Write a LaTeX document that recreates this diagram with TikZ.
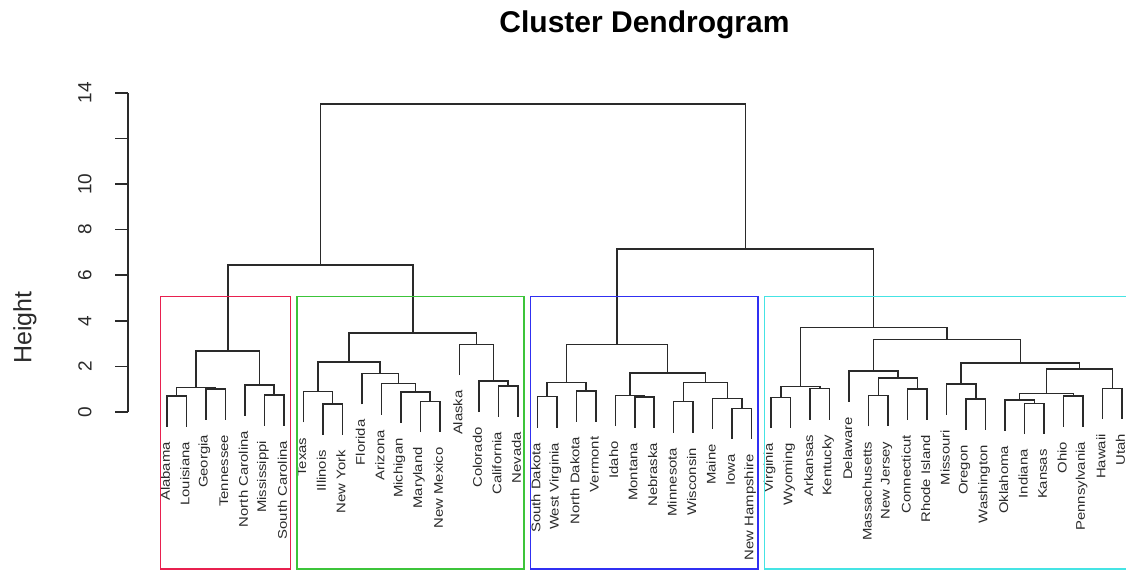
\documentclass[tikz,border=0pt]{standalone}
\usepackage{fontspec}
\setmainfont{Liberation Sans}
\usepackage{tikz}
\definecolor{kred}{HTML}{E8204F}
\definecolor{kgreen}{HTML}{3CC43A}
\definecolor{kblue}{HTML}{3030F2}
\definecolor{kcyan}{HTML}{45E4E4}
\definecolor{ink}{HTML}{2A2A2A}
\tikzset{
  % tree and axis strokes
  branch/.style  = {draw=ink, line width=1.5pt},
  axisline/.style = {draw=ink, line width=1.5pt},
  clusbox/.style = {draw=#1, line width=1.5pt},
  clusbox/.default = kred,
  % rotated texts
  leaf/.style    = {rotate=90, xscale=1.19, anchor=east, inner sep=0pt, text=ink,
                    font=\fontsize{12.5}{13}\selectfont},
  ticklbl/.style = {rotate=90, inner sep=0pt, text=ink, font=\fontsize{19}{21}\selectfont},
  ylbl/.style    = {rotate=90, inner sep=0pt, text=ink, font=\fontsize{25}{28}\selectfont},
  ttl/.style     = {inner sep=0pt, text=black, font=\fontsize{30}{34}\selectfont\bfseries},
}

\begin{document}
\begin{tikzpicture}[x=19.49pt,y=22.8pt]
\clip (-7.568,-7.061) rectangle (50.205,18.070);
% --- axis ---------------------------------------------------------------
\draw[axisline] (-1,0) -- (-1,14);
\foreach \v in {0,2,...,14}
  {\draw[axisline] (-1,\v) -- (-1.67,\v);}
\foreach \v in {0,2,4,6,8,10,14}
  {\node[ticklbl] (y\v) at (-3.21,\v) {\v};}
\node[ylbl] (ylab) at (-6.29,3.71) {Height};
\node[ttl] (title) at (25.5,16.97) {Cluster Dendrogram};
% --- leaves: index / parent height / name / label ------------------------
\foreach \i/\h/\n/\t in {1/0.70/AL/Alabama, 2/0.70/LA/Louisiana, 3/1.01/GA/Georgia,
    4/1.01/TN/Tennessee, 5/1.18/NC/North Carolina, 6/0.75/MS/Mississippi,
    7/0.75/SC/South Carolina, 8/0.89/TX/Texas, 9/0.35/IL/Illinois, 10/0.35/NY/New York,
    11/1.68/FL/Florida, 12/1.24/AZ/Arizona, 13/0.87/MI/Michigan, 14/0.47/MD/Maryland,
    15/0.47/NM/New Mexico, 16/2.97/AK/Alaska, 17/1.35/CO/Colorado, 18/1.15/CA/California,
    19/1.15/NV/Nevada, 20/0.67/SD/South Dakota, 21/0.67/WV/West Virginia,
    22/0.93/ND/North Dakota, 23/0.93/VT/Vermont, 24/0.73/ID/Idaho, 25/0.66/MT/Montana,
    26/0.66/NE/Nebraska, 27/0.45/MN/Minnesota, 28/0.45/WI/Wisconsin, 29/0.60/ME/Maine,
    30/0.16/IA/Iowa, 31/0.16/NH/New Hampshire, 32/0.64/VA/Virginia, 33/0.64/WY/Wyoming,
    34/1.02/AR/Arkansas, 35/1.02/KY/Kentucky, 36/1.80/DE/Delaware, 37/0.72/MA/Massachusetts,
    38/0.72/NJ/New Jersey, 39/1.01/CT/Connecticut, 40/1.01/RI/Rhode Island,
    41/1.23/MO/Missouri, 42/0.56/OR/Oregon, 43/0.56/WA/Washington, 44/0.53/OK/Oklahoma,
    45/0.38/IN/Indiana, 46/0.38/KS/Kansas, 47/0.70/OH/Ohio, 48/0.70/PA/Pennsylvania,
    49/1.04/HI/Hawaii, 50/1.04/UT/Utah}
  {\coordinate (\n) at (\i,\h-1.35);
   \node[leaf] (t\n) at ([xshift=-1.5pt,yshift=-15pt]\n) {\t};}
% --- merges: name / x / height -------------------------------------------
\foreach \m/\x/\h in {r1/1.5/0.70, r2/3.5/1.01, r3/2.5/1.07, r4/6.5/0.75, r5/5.75/1.18,
    r6/4.125/2.68, g1/9.5/0.35, g2/8.75/0.89, g3/14.5/0.47, g4/13.75/0.87, g5/12.875/1.24,
    g6/11.9375/1.68, g7/10.34375/2.19, g8/18.5/1.15, g9/17.75/1.35, g10/16.875/2.97,
    g11/13.609375/3.46, rg/8.8671875/6.45, b1/20.5/0.67, b2/22.5/0.93, b3/21.5/1.29,
    b4/25.5/0.66, b5/24.75/0.73, b6/27.5/0.45, b7/30.5/0.16, b8/29.75/0.60,
    b9/28.625/1.30, b10/26.6875/1.72, b11/24.09375/2.97, c1/32.5/0.64, c2/34.5/1.02,
    c3/33.5/1.11, c4/37.5/0.72, c5/39.5/1.01, c6/38.5/1.50, c7/37.25/1.80, c8/42.5/0.56,
    c9/41.75/1.23, c10/45.5/0.38, c11/44.75/0.53, c12/47.5/0.70, c13/46.125/0.82,
    c14/49.5/1.04, c15/47.8125/1.89, c16/44.78125/2.16, c17/41.015625/3.19,
    c18/37.2578125/3.70, bc/30.67578125/7.15, root/19.771484375/13.5}
  {\coordinate (\m) at (\x,\h);}
% --- branches -----------------------------------------------------------
\foreach \a/\m/\b in {AL/r1/LA, GA/r2/TN, r1/r3/r2, MS/r4/SC, NC/r5/r4, r3/r6/r5,
    IL/g1/NY, TX/g2/g1, MD/g3/NM, MI/g4/g3, AZ/g5/g4, FL/g6/g5, g2/g7/g6, CA/g8/NV,
    CO/g9/g8, AK/g10/g9, g7/g11/g10, r6/rg/g11, SD/b1/WV, ND/b2/VT, b1/b3/b2, MT/b4/NE,
    ID/b5/b4, MN/b6/WI, IA/b7/NH, ME/b8/b7, b6/b9/b8, b5/b10/b9, b3/b11/b10, VA/c1/WY,
    AR/c2/KY, c1/c3/c2, MA/c4/NJ, CT/c5/RI, c4/c6/c5, DE/c7/c6, OR/c8/WA, MO/c9/c8,
    IN/c10/KS, OK/c11/c10, OH/c12/PA, c11/c13/c12, HI/c14/UT, c13/c15/c14, c9/c16/c15,
    c7/c17/c16, c3/c18/c17, b11/bc/c18, rg/root/bc}
  {\draw[branch] (\a) |- (\m) -| (\b);}
% --- cluster boxes (k = 4) ------------------------------------------------
\foreach \l/\r/\c in {0.66/7.33/kred, 7.66/19.33/kgreen, 19.66/31.33/kblue, 31.66/50.33/kcyan}
  {\draw[clusbox=\c] (\l,-6.89) rectangle (\r,5.075);}
\end{tikzpicture}
\end{document}
